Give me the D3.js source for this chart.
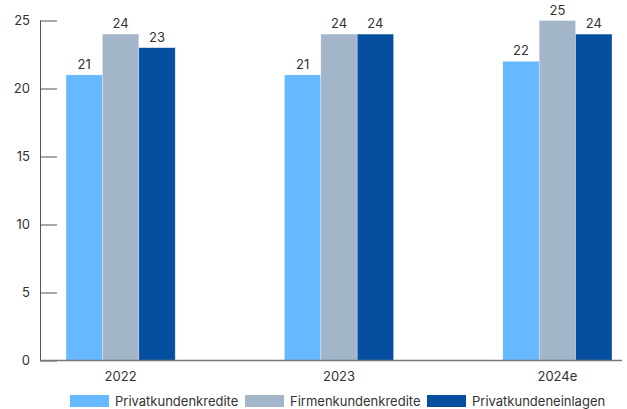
<!DOCTYPE html>
<html>
<head>
<meta charset="utf-8">
<script src="https://cdn.jsdelivr.net/npm/d3@7"></script>
<style>
  body { margin: 0; background: #fff; }
  text { font-family: Inter, "Noto Sans", sans-serif; fill: #333; }
</style>
</head>
<body>
<script>
var w = 627;
var h = 409;

// years and the three series
var years = ["2022", "2023", "2024e"];
var seriesNames = ["Privatkundenkredite", "Firmenkundenkredite", "Privatkundeneinlagen"];
var privatKredite = [21, 21, 22];
var firmenKredite = [24, 24, 25];
var privatEinlagen = [23, 24, 24];
var yTicks = [0, 5, 10, 15, 20, 25];

var colors = ["#66b8ff", "#a3b5c9", "#054ea0"];
var values = [privatKredite, firmenKredite, privatEinlagen];

var svg = d3.select("body")
  .append("svg")
  .attr("width", w)
  .attr("height", h);

var axisLeft = 40, axisRight = 622;

var x0 = d3.scaleBand()
  .domain(years)
  .range([66, 612])
  .paddingInner(0.5)
  .paddingOuter(0);

var x1 = d3.scaleBand()
  .domain(d3.range(seriesNames.length))
  .range([0, x0.bandwidth()]);

var y = d3.scaleLinear()
  .domain([0, 25])
  .range([360.5, 20.5]);

// bars
var groups = svg.selectAll("g.year")
  .data(years)
  .enter()
  .append("g")
  .attr("class", "year")
  .attr("transform", function(d) { return "translate(" + x0(d) + ",0)"; });

groups.selectAll("rect")
  .data(function(d, i) { return values.map(function(s, k) { return { k: k, v: s[i] }; }); })
  .enter()
  .append("rect")
  .attr("x", function(d) { return x1(d.k); })
  .attr("y", function(d) { return y(d.v); })
  .attr("width", x1.bandwidth())
  .attr("height", function(d) { return y(0) - y(d.v); })
  .attr("fill", function(d) { return colors[d.k]; })
  .attr("stroke", "rgba(255,255,255,0.5)")
  .attr("stroke-width", 0.6);

groups.selectAll("text")
  .data(function(d, i) { return values.map(function(s, k) { return { k: k, v: s[i] }; }); })
  .enter()
  .append("text")
  .text(function(d) { return d.v; })
  .attr("text-anchor", "middle")
  .attr("x", function(d) { return x1(d.k) + x1.bandwidth() / 2; })
  .attr("y", function(d) { return y(d.v) - 6; })
  .attr("font-size", "13px");

// y axis with ticks pointing into the plot
var yAxis = d3.axisRight(y)
  .tickValues(yTicks)
  .tickSize(17)
  .tickPadding(0);

var gy = svg.append("g")
  .attr("transform", "translate(" + axisLeft + ",0)")
  .call(yAxis);
gy.select(".domain").remove();
gy.selectAll(".tick line").attr("stroke", "#555");
gy.selectAll(".tick text")
  .attr("x", -10)
  .attr("text-anchor", "end")
  .attr("font-size", "13px")
  .style("font-family", "Inter, sans-serif")
  .attr("fill", "#333");

svg.append("line")
  .attr("x1", axisLeft + 0.5).attr("x2", axisLeft + 0.5)
  .attr("y1", y(25)).attr("y2", y(0))
  .attr("stroke", "#555");

svg.append("line")
  .attr("x1", axisLeft).attr("x2", axisRight)
  .attr("y1", y(0)).attr("y2", y(0))
  .attr("stroke", "#777")
  .attr("stroke-width", 1.5);

// year labels
svg.selectAll("text.year")
  .data(years)
  .enter()
  .append("text")
  .attr("class", "year")
  .text(function(d) { return d; })
  .attr("text-anchor", "middle")
  .attr("x", function(d) { return x0(d) + x0.bandwidth() / 2; })
  .attr("y", 381)
  .attr("font-size", "13px");

// legend
var legendX = [70, 245, 427];
var legend = svg.selectAll("g.legend")
  .data(seriesNames)
  .enter()
  .append("g")
  .attr("class", "legend")
  .attr("transform", function(d, i) { return "translate(" + legendX[i] + ",395)"; });

legend.append("rect")
  .attr("width", 39)
  .attr("height", 12)
  .attr("fill", function(d, i) { return colors[i]; });

legend.append("text")
  .text(function(d) { return d; })
  .attr("x", 45)
  .attr("y", 10.5)
  .attr("font-size", "13px");
</script>
</body>
</html>
